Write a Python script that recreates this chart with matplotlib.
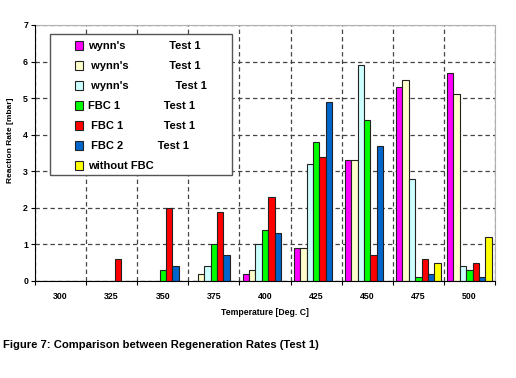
import matplotlib.pyplot as plt
from matplotlib.patches import Rectangle
import numpy as np

plt.rcParams['font.family'] = ['Liberation Sans', 'DejaVu Sans']
plt.rcParams['font.weight'] = 'bold'
plt.rcParams['axes.labelweight'] = 'bold'

# temperatures (Deg. C)
temps = ['300', '325', '350', '375', '400', '425', '450', '475', '500']

# reaction rates [mbar] per series
wynns_a = [0, 0, 0, 0, 0.2, 0.9, 3.3, 5.3, 5.7]
wynns_b = [0, 0, 0, 0.2, 0.3, 0.9, 3.3, 5.5, 5.1]
wynns_c = [0, 0, 0, 0.4, 1.0, 3.2, 5.9, 2.8, 0.4]
fbc1_a = [0, 0, 0.3, 1.0, 1.4, 3.8, 4.4, 0.1, 0.3]
fbc1_b = [0, 0.6, 2.0, 1.9, 2.3, 3.4, 0.7, 0.6, 0.5]
fbc2 = [0, 0, 0.4, 0.7, 1.3, 4.9, 3.7, 0.2, 0.1]
no_fbc = [0, 0, 0, 0, 0, 0, 0, 0.5, 1.2]

series = [wynns_a, wynns_b, wynns_c, fbc1_a, fbc1_b, fbc2, no_fbc]
labels = ["wynn's" + " " * 14 + "Test 1",
          " wynn's" + " " * 13 + "Test 1",
          " wynn's" + " " * 15 + "Test 1",
          "FBC 1" + " " * 14 + "Test 1",
          " FBC 1" + " " * 13 + "Test 1",
          " FBC 2" + " " * 11 + "Test 1",
          "without FBC"]
colors = ['#FF00FF', '#FFFFCC', '#CCFFFF', '#00FF00', '#FF0000', '#0066CC', '#FFFF00']

fig = plt.figure(figsize=(5.16, 3.78), dpi=100)
ax = fig.add_axes([35 / 516, 1 - 281 / 378, 460 / 516, 256 / 378])

x = np.arange(len(temps))
w = 0.125
for i, (vals, lab, col) in enumerate(zip(series, labels, colors)):
    ax.bar(x + (i - 3) * w, vals, w, color=col, edgecolor='#222222',
           linewidth=0.8, label=lab, zorder=3)

ax.set_xlim(-0.5, len(temps) - 0.5)
ax.set_ylim(0, 7)
ax.set_xticks(np.arange(-0.5, len(temps)), [''] * (len(temps) + 1))
ax.set_xticks(x, temps, minor=True)
ax.tick_params(axis='x', which='minor', length=0, labelsize=6.3, pad=8)
ax.tick_params(axis='x', which='major', length=3, direction='out')
ax.set_yticks(range(8))
ax.tick_params(axis='y', labelsize=6.3, length=3, pad=2)
ax.grid(True, which='major', color='#444444', linestyle=(0, (3.5, 2.5)),
        linewidth=0.9, zorder=0)

for s in ['top', 'right']:
    ax.spines[s].set_color('#b0b0b0')
for s in ['left', 'bottom']:
    ax.spines[s].set_color('black')
    ax.spines[s].set_zorder(4)

ax.set_ylabel('Reaction Rate [mbar]', fontsize=6, fontweight='bold')
ax.yaxis.set_label_coords(-0.046, 0.55)
ax.set_xlabel('Temperature [Deg. C]', fontsize=6.2, fontweight='bold', labelpad=5)

# legend box
ax.add_patch(Rectangle((0.0326, 0.414), 0.396, 0.551, transform=ax.transAxes,
                       facecolor='white', edgecolor='#555555', linewidth=1.0,
                       zorder=5))
ax.legend(loc='upper left', bbox_to_anchor=(0.087, 0.936), frameon=False,
          fontsize=8, borderpad=0, borderaxespad=0, handlelength=0.75,
          handleheight=0.75, handletextpad=0.42, labelspacing=0.9
          ).set_zorder(6)

fig.text(3 / 516, 1 - 345 / 378, 'Figure 7: Comparison between Regeneration Rates (Test 1)',
         fontsize=8.1, fontweight='bold', va='center', ha='left')

fig.savefig('out.png', dpi=100)
